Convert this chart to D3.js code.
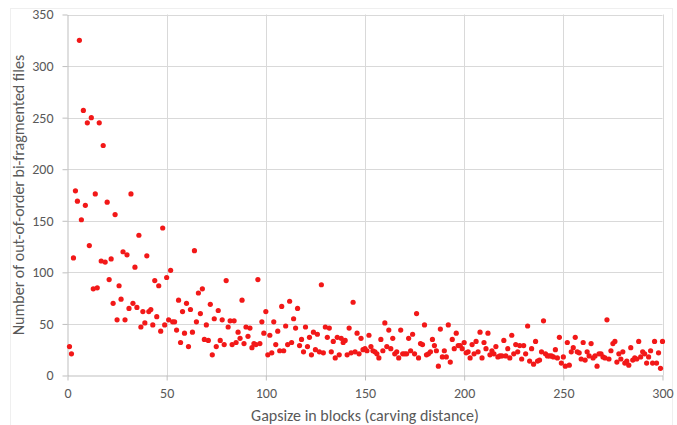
<!DOCTYPE html>
<html>
<head>
<meta charset="utf-8">
<script src="https://cdn.jsdelivr.net/npm/d3@7"></script>
<style>
  html, body { margin: 0; padding: 0; background: #ffffff; }
  svg { display: block; }
  text { font-family: Carlito, Calibri, Lato, sans-serif; }
</style>
</head>
<body>
<svg id="chart" width="677" height="425"></svg>
<script>
// Gap size (blocks) — one point per gap size
const gapsize = [
  1,2,3,4,5,6,7,8,9,10,11,12,13,14,15,16,17,18,19,20,
  21,22,23,24,25,26,27,28,29,30,31,32,33,34,35,36,37,38,39,40,
  41,42,43,44,45,46,47,48,49,50,51,52,53,54,55,56,57,58,59,60,
  61,62,63,64,65,66,67,68,69,70,71,72,73,74,75,76,77,78,79,80,
  81,82,83,84,85,86,87,88,89,90,91,92,93,94,95,96,97,98,99,100,
  101,102,103,104,105,106,107,108,109,110,111,112,113,114,115,116,117,118,119,120,
  121,122,123,124,125,126,127,128,129,130,131,132,133,134,135,136,137,138,139,140,
  141,142,143,144,145,146,147,148,149,150,151,152,153,154,155,156,157,158,159,160,
  161,162,163,164,165,166,167,168,169,170,171,172,173,174,175,176,177,178,179,180,
  181,182,183,184,185,186,187,188,189,190,191,192,193,194,195,196,197,198,199,200,
  201,202,203,204,205,206,207,208,209,210,211,212,213,214,215,216,217,218,219,220,
  221,222,223,224,225,226,227,228,229,230,231,232,233,234,235,236,237,238,239,240,
  241,242,243,244,245,246,247,248,249,250,251,252,253,254,255,256,257,258,259,260,
  261,262,263,264,265,266,267,268,269,270,271,272,273,274,275,276,277,278,279,280,
  281,282,283,284,285,286,287,288,289,290,291,292,293,294,295,296,297,298,299,300
];

// Number of out-of-order bi-fragmented files
const files = [
  28,21,114,179,169,325,151,257,165,245,
  126,250,84,176,85,245,111,223,110,168,
  93,113,70,156,54,87,74,120,54,117,
  65,176,70,105,66,136,47,62,51,116,
  62,64,49,92,57,87,43,143,49,95,
  54,102,52,52,44,73,32,62,41,70,
  28,64,42,121,52,80,60,84,35,49,
  34,69,20,55,28,63,34,54,30,92,
  47,53,30,53,32,42,36,73,31,47,
  38,46,27,31,30,93,31,52,41,62,
  20,39,22,52,30,43,24,67,24,48,
  30,72,32,55,46,65,29,35,23,47,
  28,37,20,42,25,40,23,88,22,47,
  37,46,23,33,17,37,20,36,32,34,
  20,46,22,71,23,41,21,36,25,26,
  24,39,28,24,23,21,17,35,24,51,
  28,44,26,36,21,23,17,44,21,21,
  21,36,24,40,21,60,17,31,30,49,
  20,21,23,35,29,24,9,45,18,24,
  18,49,13,35,26,41,29,29,26,32,
  22,23,17,30,21,33,23,42,17,32,
  26,41,20,24,21,28,18,19,19,34,
  19,26,17,39,21,30,23,29,16,29,
  21,48,14,26,11,33,14,15,23,53,
  21,19,19,19,18,25,17,37,12,18,
  9,32,10,23,27,37,23,22,16,32,
  15,23,19,31,17,19,9,21,21,18,
  17,54,16,24,31,33,13,21,16,23,
  12,14,10,27,15,17,16,33,18,23,
  21,12,18,24,12,33,12,22,7,33
];

const xTicks = [0, 50, 100, 150, 200, 250, 300];
const yTicks = [0, 50, 100, 150, 200, 250, 300, 350];
const xTitle = "Gapsize in blocks (carving distance)";
const yTitle = "Number of out-of-order bi-fragmented files";

const points = gapsize.map((g, i) => ({ x: g, y: files[i] }));

const svg = d3.select("#chart");
const plot = { left: 67.5, right: 662.5, top: 14.5, bottom: 375.5 };

// faint outer chart border
svg.append("rect")
  .attr("x", 10.5).attr("y", 8.5)
  .attr("width", 662).attr("height", 430)
  .attr("fill", "none").attr("stroke", "#efefef").attr("stroke-width", 1);

const x = d3.scaleLinear().domain([0, 300]).range([plot.left, plot.right]);
const y = d3.scaleLinear().domain([0, 350]).range([plot.bottom, plot.top]);

// gridlines
svg.append("g").selectAll("line")
  .data(yTicks.filter(t => t > 0))
  .join("line")
  .attr("x1", plot.left).attr("x2", plot.right)
  .attr("y1", d => Math.round(y(d)) + 0.5).attr("y2", d => Math.round(y(d)) + 0.5)
  .attr("stroke", "#d9d9d9").attr("stroke-width", 1);

svg.append("g").selectAll("line")
  .data(xTicks.filter(t => t > 0))
  .join("line")
  .attr("y1", plot.top).attr("y2", plot.bottom)
  .attr("x1", d => Math.round(x(d)) + 0.5).attr("x2", d => Math.round(x(d)) + 0.5)
  .attr("stroke", "#d9d9d9").attr("stroke-width", 1);

// axes
const xAxis = d3.axisBottom(x).tickValues(xTicks).tickSizeInner(5).tickSizeOuter(0).tickPadding(8);
const yAxis = d3.axisLeft(y).tickValues(yTicks).tickSizeInner(5).tickSizeOuter(0).tickPadding(9);

const gx = svg.append("g").attr("transform", `translate(0,${plot.bottom})`).call(xAxis);
const gy = svg.append("g").attr("transform", `translate(${plot.left},0)`).call(yAxis);

[gx, gy].forEach(g => {
  g.select(".domain").attr("stroke", "#bfbfbf");
  g.selectAll(".tick line").attr("stroke", "#bfbfbf");
  g.selectAll(".tick text")
    .attr("fill", "#595959")
    .style("font-size", "14px")
    .style("font-family", "Carlito, Calibri, Lato, sans-serif");
});

// points
svg.append("g").selectAll("circle")
  .data(points)
  .join("circle")
  .attr("cx", d => x(d.x))
  .attr("cy", d => y(d.y))
  .attr("r", 2.6)
  .attr("fill", "#f21818");

// axis titles
svg.append("text")
  .attr("x", (plot.left + plot.right) / 2)
  .attr("y", 420.5)
  .attr("text-anchor", "middle")
  .attr("fill", "#595959")
  .style("font-size", "16px")
  .text(xTitle);

svg.append("text")
  .attr("transform", `translate(24,${(plot.top + plot.bottom) / 2}) rotate(-90)`)
  .attr("text-anchor", "middle")
  .attr("fill", "#595959")
  .style("font-size", "16px")
  .text(yTitle);
</script>
</body>
</html>
